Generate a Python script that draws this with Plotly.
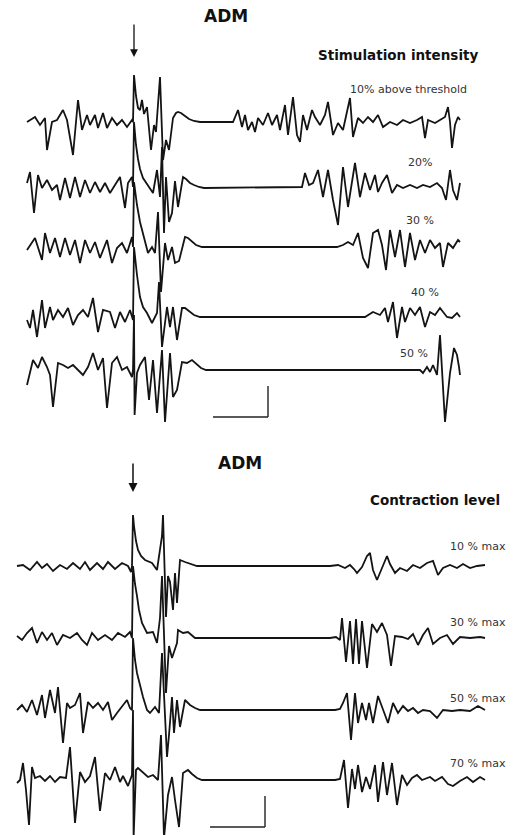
import plotly.graph_objects as go

# ---------------- DATA ----------------
# Each trace: (time in ms relative to the stimulus, amplitude in arbitrary units)
# Upper panel: stimulation intensity series
top_10 = [(-107, 0), (-99, 5), (-94, -3), (-89, 4), (-87, -28), (-82, 0), (-77, 2), (-71, 12), (-67, 2),
          (-61, -33), (-56, 22), (-52, -8), (-47, 7), (-44, -3), (-39, 7), (-36, -6), (-31, 9), (-27, -6),
          (-22, 4), (-17, -3), (-12, 2), (-7, -5), (-2, 2), (-1, 0),
          (0, 47), (1, 36), (2, 26), (4, 14), (6, 12), (8, 22), (10, 8), (13, 15), (17, -28), (20, -3),
          (22, -10), (26, 45), (29, -38), (32, -18), (35, -28), (39, 4), (42, 9), (44, 10), (47, 9),
          (51, 6), (55, 3), (60, 1), (66, 0), (99, 0),
          (104, 12), (108, -5), (111, 7), (114, -8), (118, 0), (121, -10), (124, 4), (129, -3), (134, 9),
          (138, -3), (143, 7), (146, -8), (151, 17), (154, -13), (159, 25), (163, -13), (166, -20), (169, 7),
          (173, -8), (178, 12), (181, 5), (186, -3), (191, 7), (194, 20), (199, -13), (204, -1), (209, -8),
          (216, 24), (219, -15), (224, 4), (229, -1), (234, 5), (239, 0), (244, 7), (249, -5), (256, 0),
          (263, -3), (269, 2), (276, -1), (283, 2), (288, 5), (291, -16), (294, 2), (301, -1), (306, 2),
          (311, 5), (314, 15), (316, 0), (318, -26), (321, -3), (324, 5), (326, 2)]

top_20 = [(-107, 4), (-104, 15), (-100, -26), (-96, 12), (-92, -1), (-87, 7), (-82, -3), (-77, 2), (-74, -13),
          (-69, 9), (-64, -11), (-59, 10), (-54, -10), (-49, 7), (-44, -6), (-39, 5), (-34, -5), (-29, 4),
          (-24, -6), (-19, 2), (-14, 10), (-9, -21), (-6, 4), (-2, 10), (-1, 0),
          (0, 65), (1, 52), (2, 42), (4, 28), (6, 18), (9, 9), (13, 3), (16, -2), (19, -6), (23, 17),
          (26, -10), (28, 40), (30, -46), (32, 10), (35, -35), (38, -26), (41, 6), (44, -20), (49, 10),
          (52, 8), (56, 4), (60, 2), (65, 0), (70, -1), (164, 0),
          (168, 0), (171, 14), (175, 2), (179, 4), (184, 17), (189, -10), (194, 17), (199, -13), (204, -38),
          (209, 20), (214, -20), (221, 24), (226, -10), (231, 14), (236, -3), (241, 12), (244, -5), (248, 4),
          (253, 12), (258, -6), (263, 2), (269, -1), (276, 2), (283, -1), (289, 2), (296, 0), (303, 4),
          (308, -1), (312, -13), (316, 17), (319, -3), (323, -13), (326, 4)]

top_30 = [(-107, -3), (-99, 9), (-92, -13), (-89, 14), (-84, -6), (-79, 9), (-74, -10), (-69, 9), (-64, -8),
          (-59, 7), (-54, -16), (-49, 7), (-44, -6), (-39, 5), (-34, -11), (-27, 7), (-22, -16), (-17, -1),
          (-12, 4), (-7, -6), (-2, 10), (-1, 0),
          (0, 65), (1, 55), (3, 42), (6, 25), (9, 14), (12, 2), (14, -6), (18, 0), (21, -6), (24, 35),
          (27, -45), (31, 4), (34, -13), (38, 0), (41, -16), (45, -14), (51, 10), (54, 9), (58, 5),
          (62, 2), (68, 0), (203, 0),
          (209, 2), (214, 5), (219, 2), (224, 14), (229, -11), (234, -21), (239, 14), (244, 17), (248, 2),
          (252, -23), (256, 17), (261, -10), (266, 17), (271, -20), (276, 14), (281, -13), (286, 7),
          (291, -6), (296, 7), (301, -1), (306, 4), (309, -20), (314, 4), (319, -1), (324, 7), (326, 5)]

top_40 = [(-107, -3), (-104, -11), (-101, 7), (-97, -20), (-92, 17), (-89, -11), (-84, 10), (-81, -3),
          (-76, 7), (-71, 0), (-66, 9), (-61, -8), (-56, 2), (-51, 7), (-46, 0), (-41, 19), (-36, -15),
          (-31, 7), (-24, 5), (-19, -11), (-14, 5), (-9, -5), (-4, 7), (-1, -3),
          (0, 70), (1, 58), (3, 42), (6, 20), (9, 10), (13, 4), (18, -6), (23, 4), (25, 35), (28, -30),
          (33, 10), (36, -10), (39, 10), (43, -23), (48, 9), (51, 9), (55, 6), (60, 2), (66, 0), (231, 0),
          (239, 5), (246, 2), (251, 9), (254, -5), (259, 15), (263, -21), (268, 10), (271, -5), (276, 9),
          (281, 2), (286, 10), (291, -10), (296, 5), (301, 2), (306, 9), (313, 0), (318, -1), (323, 4),
          (326, 0)]

top_50 = [(-107, -15), (-104, -3), (-101, 10), (-96, 2), (-92, 13), (-87, 3), (-84, -5), (-81, -37),
          (-76, 7), (-71, 5), (-66, 2), (-61, 5), (-56, 0), (-51, -5), (-46, 3), (-41, 17), (-36, 0),
          (-31, 12), (-27, -38), (-22, 7), (-17, 13), (-12, 0), (-7, 3), (-2, -7), (-1, 0),
          (0, 55), (0.6, -45), (3, -3), (6, 5), (11, 13), (15, -30), (19, 10), (23, -43), (28, 20),
          (31, -52), (36, 17), (39, -27), (43, -20), (48, 8), (53, 7), (58, 10), (62, 6), (67, 2),
          (72, 0), (286, 0),
          (289, -3), (293, 3), (296, -2), (299, 5), (303, -5), (306, 35), (311, -52), (316, -3), (320, 22),
          (323, 15), (325, 3), (326, -5)]

# Lower panel: contraction level series
bot_10 = [(-116, 0), (-110, 1), (-103, -4), (-96, 4), (-91, -2), (-86, 2), (-80, -5), (-73, 1), (-66, -3),
          (-60, 3), (-53, -3), (-48, 4), (-43, -4), (-36, 3), (-30, -3), (-25, 4), (-18, -3), (-11, 3),
          (-5, 0), (-2, -6), (-1, 0),
          (0, 51), (1, 40), (3, 25), (5, 16), (8, 10), (12, 6), (19, 3), (24, -4), (29, 30), (30, 51),
          (33, -51), (35, -10), (37, -16), (40, -44), (42, -7), (44, -37), (47, 6), (52, 4), (58, 2),
          (64, 0), (197, 0),
          (205, 1), (212, -2), (217, 1), (221, -3), (224, -7), (229, -1), (234, 10), (237, 13), (240, -4),
          (244, -14), (249, -2), (254, 10), (257, 2), (262, -7), (267, -2), (274, -5), (280, 1), (287, -2),
          (294, 3), (300, 5), (305, -9), (310, -2), (317, 1), (324, -2), (330, 2), (337, -2), (344, 0),
          (352, 1)]

bot_30 = [(-116, 2), (-111, -2), (-106, 5), (-101, 10), (-96, -5), (-91, 6), (-86, -2), (-81, 5), (-76, -7),
          (-70, 3), (-63, 0), (-56, 5), (-51, -2), (-46, -7), (-41, 5), (-35, -2), (-28, 3), (-21, -2),
          (-15, 5), (-8, 1), (-3, 6), (-1, 0),
          (0, 72), (1, 62), (2, 54), (4, 42), (6, 28), (9, 15), (14, 5), (20, 6), (24, -5), (27, 20),
          (29, 62), (33, -55), (36, -8), (39, -20), (44, -5), (45, 8), (50, 5), (55, 6), (62, 0), (197, 0),
          (203, 1), (207, -2), (209, 20), (213, -24), (217, 17), (220, -26), (223, 19), (226, -26),
          (229, 17), (234, -30), (239, 14), (244, 6), (249, 15), (254, 3), (258, -28), (262, 2), (269, 1),
          (275, -1), (280, 4), (285, -7), (290, 3), (295, 10), (300, -6), (307, 0), (314, 3), (320, -6),
          (327, 1), (337, 0), (347, 1), (352, 0)]

bot_50 = [(-116, 0), (-111, 5), (-106, -2), (-101, 10), (-96, -5), (-91, 15), (-88, -8), (-83, 20),
          (-78, -3), (-75, 23), (-70, -33), (-66, 7), (-63, 2), (-58, 5), (-53, 17), (-50, -23), (-45, 8),
          (-40, 2), (-35, 7), (-30, 0), (-25, 8), (-21, -10), (-16, -3), (-11, 3), (-6, 10), (-3, 2), (-1, 0),
          (0, 72), (1, 60), (2, 50), (4, 37), (7, 24), (10, 13), (14, 0), (17, -3), (22, 3), (26, -3),
          (29, 57), (34, -47), (36, -25), (39, 13), (41, -23), (44, 10), (47, -17), (52, 10), (57, 5),
          (62, 2), (67, 0), (202, 0),
          (207, 1), (210, 7), (214, 17), (218, -30), (222, 17), (225, -13), (229, 7), (233, -10), (236, 7),
          (240, -13), (245, 14), (250, 0), (255, -13), (260, 7), (265, -3), (270, 4), (275, -1), (280, 2),
          (285, -3), (290, 0), (297, -1), (304, -8), (310, 0), (319, -1), (327, 0), (337, -1), (345, 4),
          (352, 0)]

bot_70 = [(-116, -3), (-113, 0), (-110, 17), (-107, -10), (-104, -45), (-101, 13), (-98, 2), (-93, 4),
          (-88, -1), (-83, 4), (-78, -2), (-73, 3), (-67, 2), (-63, 33), (-58, -43), (-53, 8), (-48, -2),
          (-43, 4), (-38, 23), (-33, -31), (-28, 7), (-23, 0), (-18, 13), (-13, -2), (-10, 4), (-5, -6),
          (-1, 5),
          (0, 70), (0.6, -58), (3, 10), (5, 12), (10, 7), (15, 3), (20, 5), (25, 0), (28, 45), (31, -58),
          (35, -15), (39, 3), (42, -20), (46, -47), (50, 7), (55, 10), (59, 6), (64, 2), (69, 0), (202, 0),
          (207, 1), (211, 20), (215, -28), (219, 11), (222, -9), (225, 15), (229, -12), (233, 3), (237, -9),
          (242, 15), (245, -22), (250, 18), (254, -15), (259, 17), (264, -25), (269, 5), (274, -5), (279, 2),
          (284, 5), (289, 0), (297, 3), (302, -1), (309, 3), (315, -4), (320, -6), (327, -1), (334, 3),
          (340, -2), (347, 3), (352, 0)]

top_traces = [top_10, top_20, top_30, top_40, top_50]
top_labels = ["10% above threshold", "20%", "30 %", "40 %", "50 %"]
bot_traces = [bot_10, bot_30, bot_50, bot_70]
bot_labels = ["10 % max", "30 % max", "50 % max", "70 % max"]

panel_titles = ["ADM", "ADM"]
panel_headers = ["Stimulation intensity", "Contraction level"]

# ---------------- LAYOUT / STYLE ----------------
W, H = 522, 835
SPLIT = 430  # pixel row dividing the two panels
top_offsets = [-122, -187, -247, -317, -370]
bot_offsets = [-566, -638, -710, -780]
top_label_pos = [(274, -89), (286, -162), (286, -220), (291, -292), (280, -353)]
bot_label_pos = [(375, -546), (375, -622), (375, -698), (375, -763)]
SCALE_T, SCALE_V = 55, 31

LINE = dict(color="#141414", width=1.8)
FONT = "DejaVu Sans, Arial, sans-serif"

fig = go.Figure()

for tr, off in zip(top_traces, top_offsets):
    fig.add_trace(go.Scatter(x=[p[0] for p in tr], y=[p[1] + off for p in tr], mode="lines",
                             line=LINE, xaxis="x", yaxis="y", showlegend=False, hoverinfo="skip"))
for tr, off in zip(bot_traces, bot_offsets):
    fig.add_trace(go.Scatter(x=[p[0] for p in tr], y=[p[1] + off for p in tr], mode="lines",
                             line=LINE, xaxis="x2", yaxis="y2", showlegend=False, hoverinfo="skip"))

ann = []
# panel titles
ann.append(dict(x=92, y=-16, xref="x", yref="y", text="<b>%s</b>" % panel_titles[0], showarrow=False,
                font=dict(family=FONT, size=17, color="#111")))
ann.append(dict(x=107, y=-463, xref="x2", yref="y2", text="<b>%s</b>" % panel_titles[1], showarrow=False,
                font=dict(family=FONT, size=17, color="#111")))
ann.append(dict(x=264, y=-55, xref="x", yref="y", text="<b>%s</b>" % panel_headers[0], showarrow=False,
                font=dict(family=FONT, size=13.5, color="#111")))
ann.append(dict(x=302, y=-500, xref="x2", yref="y2", text="<b>%s</b>" % panel_headers[1], showarrow=False,
                font=dict(family=FONT, size=13.5, color="#111")))
for lab, (lx, ly) in zip(top_labels, top_label_pos):
    ann.append(dict(x=lx, y=ly, xref="x", yref="y", text=lab, showarrow=False,
                    font=dict(family=FONT, size=11, color="#333")))
for lab, (lx, ly) in zip(bot_labels, bot_label_pos):
    ann.append(dict(x=lx, y=ly, xref="x2", yref="y2", text=lab, showarrow=False, xanchor="right",
                    font=dict(family=FONT, size=11, color="#333")))
# stimulus arrows
ann.append(dict(x=0, y=-57, xref="x", yref="y", text="", showarrow=True, ax=0, ay=-34,
                arrowhead=2, arrowsize=1.2, arrowwidth=1.3, arrowcolor="#111"))
ann.append(dict(x=0, y=-492, xref="x2", yref="y2", text="", showarrow=True, ax=0, ay=-30,
                arrowhead=2, arrowsize=1.2, arrowwidth=1.5, arrowcolor="#111"))

shapes = []
# calibration bars
for xr, yr, tx, vy in [("x", "y", 134, -417), ("x2", "y2", 132, -827)]:
    shapes.append(dict(type="line", xref=xr, yref=yr, x0=tx - SCALE_T, x1=tx, y0=vy, y1=vy,
                       line=dict(color="#222", width=1.4)))
    shapes.append(dict(type="line", xref=xr, yref=yr, x0=tx, x1=tx, y0=vy, y1=vy + SCALE_V,
                       line=dict(color="#222", width=1.4)))

top_dom = [1 - SPLIT / H, 1]
bot_dom = [0, 1 - SPLIT / H]
ax_common = dict(visible=False, showgrid=False, zeroline=False, fixedrange=True)
fig.update_layout(
    width=W, height=H, autosize=False,
    margin=dict(l=0, r=0, t=0, b=0),
    paper_bgcolor="white", plot_bgcolor="white",
    xaxis=dict(range=[-134, W - 134], domain=[0, 1], anchor="y", **ax_common),
    yaxis=dict(range=[-SPLIT, 0], domain=top_dom, anchor="x", **ax_common),
    xaxis2=dict(range=[-133, W - 133], domain=[0, 1], anchor="y2", **ax_common),
    yaxis2=dict(range=[-H, -SPLIT], domain=bot_dom, anchor="x2", **ax_common),
    annotations=ann, shapes=shapes,
)

fig.write_html("out.html", config={"displayModeBar": False},
               post_script="document.body.style.margin='0';document.body.style.overflow='hidden';")
